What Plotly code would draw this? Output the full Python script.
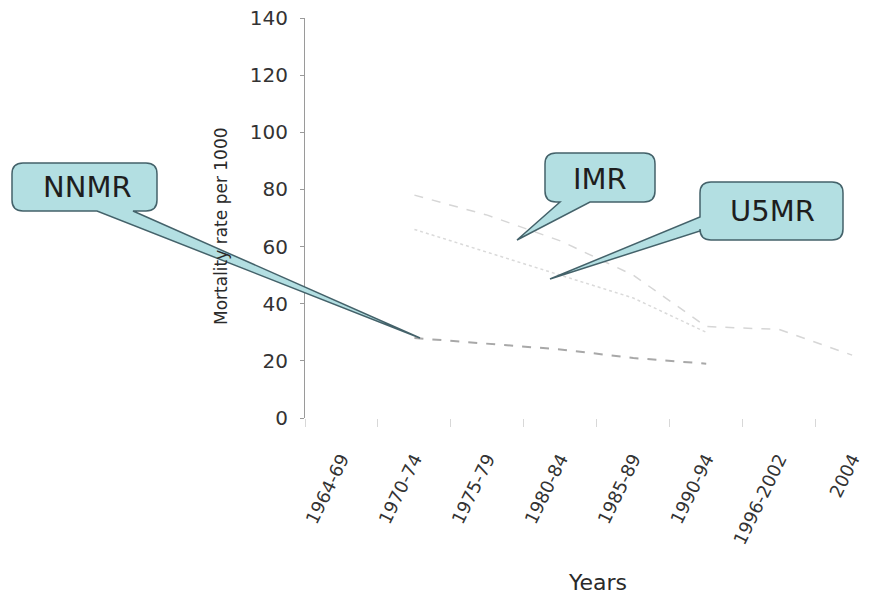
import plotly.graph_objects as go

# ---- data ----
years = ["1964-69", "1970-74", "1975-79", "1980-84", "1985-89", "1990-94", "1996-2002", "2004"]
u5mr = [None, 78, 71, 62, 50, 32, 31, 22]
imr = [None, 66, 58, 50, 42, 30, None, None]
nnmr = [None, 28, 26, 24, 21, 19, None, None]
y_ticks = [0, 20, 40, 60, 80, 100, 120, 140]

W, H = 874, 599
ML, MR, MT, MB = 305, 0, 18, 181
PW, PH = W - ML - MR, H - MT - MB


def px(x):
    return (x - ML) / PW


def py(y):
    return (H - MB - y) / PH


fig = go.Figure()
fig.add_trace(go.Scatter(x=years, y=u5mr, mode="lines", name="U5MR",
                         line=dict(color="#d6d6d6", width=1.5, dash="dash"), connectgaps=False))
fig.add_trace(go.Scatter(x=years, y=imr, mode="lines", name="IMR",
                         line=dict(color="#dadada", width=1.5, dash="dot"), connectgaps=False))
fig.add_trace(go.Scatter(x=years, y=nnmr, mode="lines", name="NNMR",
                         line=dict(color="#a8a8a8", width=2, dash="dash"), connectgaps=False))


def callout(box, r, side, a, b, tip):
    x0, y0, x1, y1 = box
    p = lambda x, y: f"{px(x):.5f},{py(y):.5f}"
    s = f"M {p(x0 + r, y0)} L {p(x1 - r, y0)} Q {p(x1, y0)} {p(x1, y0 + r)} "
    s += f"L {p(x1, y1 - r)} Q {p(x1, y1)} {p(x1 - r, y1)} "
    if side == "bottom":
        s += f"L {p(b, y1)} L {p(*tip)} L {p(a, y1)} "
    s += f"L {p(x0 + r, y1)} Q {p(x0, y1)} {p(x0, y1 - r)} "
    if side == "left":
        s += f"L {p(x0, b)} L {p(*tip)} L {p(x0, a)} "
    s += f"L {p(x0, y0 + r)} Q {p(x0, y0)} {p(x0 + r, y0)} Z"
    return dict(type="path", xref="paper", yref="paper", path=s,
                fillcolor="#b3dfe2", line=dict(color="#44626a", width=1.5), layer="above")


shapes = [
    callout((12, 163, 157, 211), 11, "bottom", 97, 133, (420, 338)),
    callout((545, 153, 655, 202), 11, "bottom", 560, 590, (517, 240)),
    callout((700, 182, 843, 240), 11, "left", 217, 231, (550, 279)),
]


def label(text, x, y, size, angle=0, color="#1e1e1e"):
    return dict(text=text, x=px(x), y=py(y), xref="paper", yref="paper", showarrow=False,
                xanchor="center", yanchor="middle", textangle=angle,
                font=dict(family="DejaVu Sans", size=size, color=color))


annotations = [
    label("NNMR", 87, 187, 29),
    label("IMR", 600, 179, 29),
    label("U5MR", 772, 211, 29),
    label("Years", 597, 582, 22, color="#2a2a2a"),
    label("Mortality rate per 1000", 221, 226, 17, angle=-90, color="#2a2a2a"),
]

fig.update_layout(
    width=W, height=H,
    margin=dict(l=ML, r=MR, t=MT, b=MB, autoexpand=False),
    paper_bgcolor="white", plot_bgcolor="white",
    showlegend=False,
    shapes=shapes, annotations=annotations,
    xaxis=dict(type="category", range=[-0.5, 7.3], showgrid=False, zeroline=False,
               showline=False, ticks="outside", tickson="boundaries", ticklen=8,
               tickcolor="#d8d8d8", tickangle=-64, ticklabelstandoff=26,
               tickfont=dict(family="DejaVu Sans", size=18, color="#333333")),
    yaxis=dict(range=[0, 140], tickvals=y_ticks, showgrid=False, zeroline=False,
               showline=True, linecolor="#9a9a9a", linewidth=1, ticks="outside",
               ticklen=4, tickcolor="#9a9a9a", ticklabelstandoff=8,
               tickfont=dict(family="DejaVu Sans", size=20, color="#333333")),
)

fig.write_html("out.html")
